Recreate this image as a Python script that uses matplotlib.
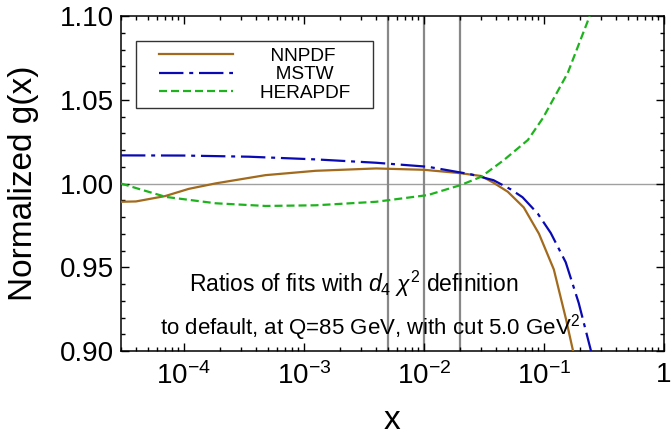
import numpy as np
import matplotlib
matplotlib.use("Agg")
import matplotlib.pyplot as plt
from matplotlib.ticker import FuncFormatter, MultipleLocator, LogLocator
from matplotlib.legend_handler import HandlerLine2D
from matplotlib.lines import Line2D

plt.rcParams['font.family'] = ['Liberation Sans', 'DejaVu Sans']
plt.rcParams['mathtext.fontset'] = 'custom'
plt.rcParams['mathtext.rm'] = 'Liberation Sans'
plt.rcParams['mathtext.it'] = 'Liberation Sans:italic'
plt.rcParams['mathtext.sf'] = 'Liberation Sans'

# values
x_nnpdf = [3e-5, 4e-5, 7e-5, 1.1e-4, 1.85e-4, 4.8e-4, 1.26e-3, 4e-3, 1e-2, 2e-2,
           3e-2, 3.8e-2, 5e-2, 6.8e-2, 9.1e-2, 0.121, 0.153, 0.175, 0.2]
nnpdf = [0.9891, 0.9893, 0.9925, 0.9968, 1.0001, 1.0050, 1.0076, 1.0090, 1.0082, 1.0062,
         1.0045, 1.0005, 0.9951, 0.9857, 0.9700, 0.9487, 0.9189, 0.9000, 0.8800]

x_mstw = [3e-5, 1e-4, 3.5e-4, 1.26e-3, 4e-3, 1.08e-2, 2.46e-2, 3.8e-2, 5.3e-2, 6.64e-2,
          8.9e-2, 0.114, 0.152, 0.195, 0.247, 0.28]
mstw = [1.0168, 1.0167, 1.0160, 1.0144, 1.0124, 1.0100, 1.0055, 1.0020, 0.9965, 0.9918,
        0.9820, 0.9705, 0.9530, 0.9287, 0.9000, 0.8800]

x_hera = [3e-5, 4.5e-5, 7.1e-5, 1.85e-4, 4.8e-4, 1.26e-3, 4e-3, 1.08e-2, 2.03e-2, 3e-2,
          4.64e-2, 7.36e-2, 9.8e-2, 0.158, 0.237, 0.27]
hera = [1.0000, 0.9962, 0.9920, 0.9882, 0.9866, 0.9870, 0.9891, 0.9931, 0.9991, 1.0040,
        1.0140, 1.0260, 1.0390, 1.0660, 1.0987, 1.1150]

x_cuts = [0.005, 0.01, 0.02]
labels = ["  NNPDF", "   MSTW", "HERAPDF   "]

fig = plt.figure(figsize=(6.72, 4.45), dpi=100)
ax = fig.add_axes([0.180, 0.2112, 0.808, 0.7528])

ax.axhline(1.0, color='#a0a0a0', lw=1.0, zorder=1)
for xc in x_cuts:
    ax.axvline(xc, color='#888888', lw=1.6, zorder=1)

ax.plot(x_nnpdf, nnpdf, color='#a26a1c', lw=1.6, label=labels[0], zorder=3)
ax.plot(x_mstw, mstw, color='#0a0ab4', lw=1.6, dashes=(11, 2.6, 1.8, 2.6), label=labels[1], zorder=3)
ax.plot(x_hera, hera, color='#1db31d', lw=1.6, dashes=(3.6, 1.8), label=labels[2], zorder=3)

ax.set_xscale('log')
ax.set_xlim(3e-5, 1)
ax.set_ylim(0.90, 1.10)

ax.yaxis.set_major_locator(MultipleLocator(0.05))
ax.yaxis.set_minor_locator(MultipleLocator(0.01))
ax.yaxis.set_major_formatter(FuncFormatter(lambda v, p: "%.2f" % v))
ax.xaxis.set_major_locator(LogLocator(base=10, numticks=10))
ax.xaxis.set_minor_locator(LogLocator(base=10, subs=np.arange(2, 10), numticks=20))


def xfmt(v, p):
    e = int(round(np.log10(v)))
    if e == 0:
        return "1"
    return r"$10^{%d}$" % e


ax.xaxis.set_major_formatter(FuncFormatter(xfmt))
ax.xaxis.set_minor_formatter(FuncFormatter(lambda v, p: ""))

ax.tick_params(which='both', direction='in', top=True, right=True, width=1.0)
ax.tick_params(which='major', length=6, labelsize=20)
ax.tick_params(which='minor', length=3)
ax.tick_params(axis='x', pad=8)
ax.tick_params(axis='y', pad=5)
for s in ax.spines.values():
    s.set_linewidth(1.1)

ax.set_ylabel("Normalized g(x)", fontsize=24)
ax.set_xlabel("x", fontsize=24)
ax.yaxis.set_label_coords(-0.151, 0.5)
ax.xaxis.set_label_coords(0.5, -0.16)

ax.text(0.428, 0.176, r"Ratios of fits with $d_4\ \chi^2$ definition",
        transform=ax.transAxes, ha='center', va='baseline', fontsize=16.5)
ax.text(0.459, 0.048, r"to default, at Q=85 GeV, with cut 5.0 GeV$^2$",
        transform=ax.transAxes, ha='center', va='baseline', fontsize=16)

leg = ax.legend(loc='upper left', bbox_to_anchor=(0.028, 0.925), borderaxespad=0,
                fontsize=13.7, frameon=True, fancybox=False, edgecolor='black',
                borderpad=0.35, handlelength=4.75, handletextpad=1.43, labelspacing=0.05,
                handler_map={Line2D: HandlerLine2D(xpad=0.86)})
leg.get_frame().set_linewidth(1.0)

fig.savefig("out.png", dpi=100)
